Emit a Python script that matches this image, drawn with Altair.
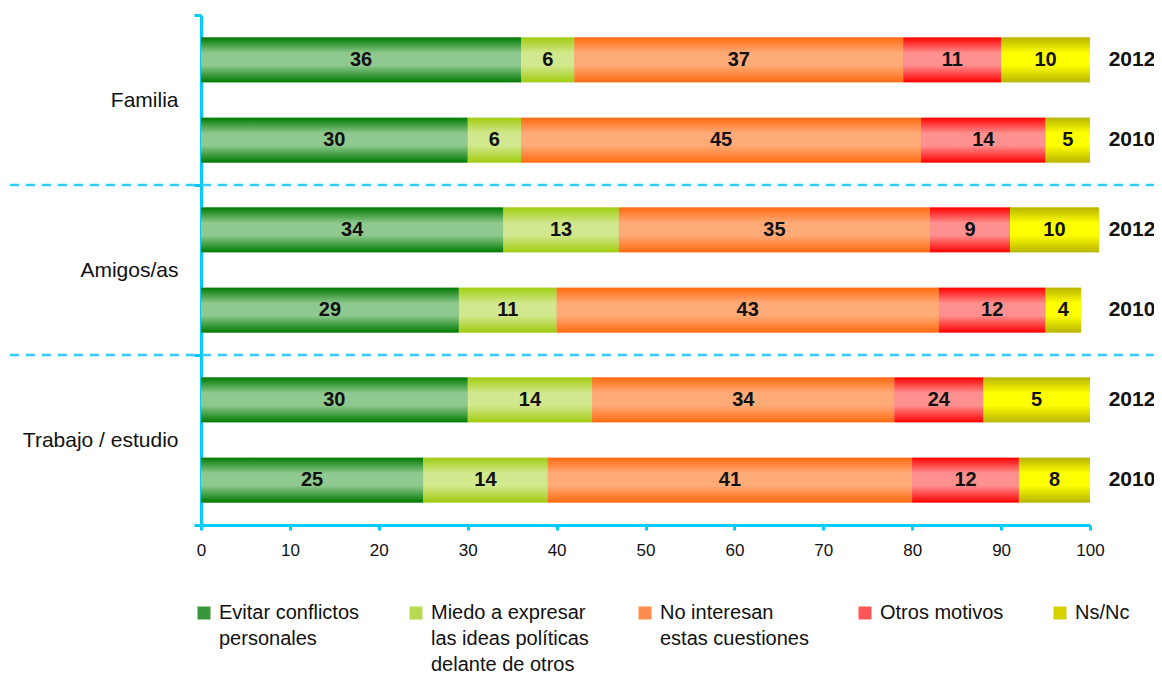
import altair as alt
import pandas as pd

# ---- data ----
grupos = ["Familia", "Familia", "Amigos/as", "Amigos/as", "Trabajo / estudio", "Trabajo / estudio"]
anios = ["2012", "2010", "2012", "2010", "2012", "2010"]
orden_grupos = ["Familia", "Amigos/as", "Trabajo / estudio"]
orden_anios = ["2012", "2010"]

series = [
    "Evitar conflictos|personales",
    "Miedo a expresar|las ideas políticas|delante de otros",
    "No interesan|estas cuestiones",
    "Otros motivos",
    "Ns/Nc",
]

# bar lengths as drawn
evitar = [36, 30, 34, 29, 30, 25]
miedo = [6, 6, 13, 11, 14, 14]
no_interesan = [37, 45, 35, 43, 34, 41]
otros = [11, 14, 9, 12, 10, 12]
nsnc = [10, 5, 10, 4, 12, 8]

# numbers printed on the bars
evitar_et = [36, 30, 34, 29, 30, 25]
miedo_et = [6, 6, 13, 11, 14, 14]
no_interesan_et = [37, 45, 35, 43, 34, 41]
otros_et = [11, 14, 9, 12, 24, 12]
nsnc_et = [10, 5, 10, 4, 5, 8]

valores = [evitar, miedo, no_interesan, otros, nsnc]
etiquetas = [evitar_et, miedo_et, no_interesan_et, otros_et, nsnc_et]

# ---- styles ----
flat_colors = ["#3A963A", "#B8DA50", "#FF8C4C", "#FF5555", "#D6D200"]
grad_edges = ["#007A00", "#A0CC10", "#FF6A10", "#FF0000", "#B8B400"]
grad_mids = ["#8FC98F", "#D2E88E", "#FFAB78", "#FF9090", "#FFFF00"]
CYAN = "#00CCFF"
FONT = "Liberation Sans"

rows = []
for si, s in enumerate(series):
    for r in range(len(grupos)):
        rows.append({
            "grp": grupos[r], "year": anios[r], "serie": s, "idx": si,
            "val": valores[si][r], "label": str(etiquetas[si][r]),
        })
df = pd.DataFrame(rows)
df_years = pd.DataFrame({"grp": grupos, "year": anios})
df_sep = pd.DataFrame({"grp": orden_grupos[1:]})

y_enc = alt.Y(
    "grp:N", sort=orden_grupos, title=None,
    scale=alt.Scale(paddingInner=0, paddingOuter=0),
    axis=alt.Axis(
        domainColor=CYAN, domainWidth=3, tickColor=CYAN, tickWidth=3, tickSize=7,
        tickBand="extent", labelFontSize=21, labelFont=FONT, labelColor="#111111",
        labelPadding=16, labelLimit=300, grid=False,
    ),
)
yoff_enc = alt.YOffset(
    "year:N", sort=orden_anios,
    scale=alt.Scale(paddingInner=0.44, paddingOuter=0.28),
)
x_scale = alt.Scale(domain=[0, 100], nice=False)
x_enc = alt.X(
    "x0:Q", scale=x_scale, title=None,
    axis=alt.Axis(
        values=list(range(0, 101, 10)), domainColor=CYAN, domainWidth=3,
        tickColor=CYAN, tickWidth=3, tickSize=5, labelFontSize=17, labelFont=FONT,
        labelColor="#111111", labelPadding=12, grid=False, labelFlush=False,
    ),
)

base = alt.Chart(df).transform_stack(
    stack="val", groupby=["grp", "year"], as_=["x0", "x1"],
    sort=[alt.SortField("idx", order="ascending")],
)

bars = base.mark_bar().encode(
    x=x_enc, x2="x1:Q", y=y_enc, yOffset=yoff_enc,
    color=alt.Color(
        "serie:N", sort=series,
        scale=alt.Scale(domain=series, range=flat_colors),
        legend=alt.Legend(
            orient="none", legendX=-7, legendY=588, direction="horizontal",
            columns=5, title=None, symbolType="square", symbolSize=169,
            symbolStrokeWidth=0, labelFontSize=20, labelFont=FONT,
            labelColor="#111111", labelLimit=400, labelOffset=5,
            columnPadding=46, gridAlign="none", labelExpr="split(datum.label, '|')",
            labelBaseline="middle", padding=0, rowPadding=0,
        ),
    ),
)

grad_layers = []
for i in range(len(series)):
    g = alt.LinearGradient(
        gradient="linear", x1=0, y1=0, x2=0, y2=1,
        stops=[
            alt.GradientStop(color=grad_edges[i], offset=0),
            alt.GradientStop(color=grad_mids[i], offset=0.35),
            alt.GradientStop(color=grad_mids[i], offset=0.62),
            alt.GradientStop(color=grad_edges[i], offset=1),
        ],
    )
    grad_layers.append(
        base.transform_filter(alt.datum.idx == i).mark_bar(color=g).encode(
            x=alt.X("x0:Q", scale=x_scale), x2="x1:Q", y=y_enc, yOffset=yoff_enc,
        )
    )

seps = alt.Chart(df_sep).mark_rule(
    color="#33CCFF", strokeWidth=2.5, strokeDash=[9, 7]
).encode(
    x=alt.datum(-21.5), x2=alt.datum(107.2),
    y=alt.Y("grp:N", sort=orden_grupos, bandPosition=0),
)

texts = base.transform_calculate(xm="(datum.x0 + datum.x1) / 2").mark_text(
    fontWeight="bold", fontSize=20, font=FONT, color="#111111"
).encode(
    x=alt.X("xm:Q", scale=x_scale), y=y_enc, yOffset=yoff_enc, text="label:N",
)

years = alt.Chart(df_years).mark_text(
    fontWeight="bold", fontSize=21, font=FONT, color="#111111", dx=42
).encode(
    x=alt.datum(100), y=y_enc, yOffset=yoff_enc, text="year:N",
)

chart = alt.layer(bars, *grad_layers, seps, texts, years).properties(
    width=889, height=510,
    autosize=alt.AutoSizeParams(type="none"),
    padding={"left": 193, "top": 7, "right": 64, "bottom": 150},
).configure(
    style={"guide-label": {"lineHeight": 26}}
).configure_view(stroke=None)

chart.save("out.html", embed_options={"renderer": "svg", "actions": False})
